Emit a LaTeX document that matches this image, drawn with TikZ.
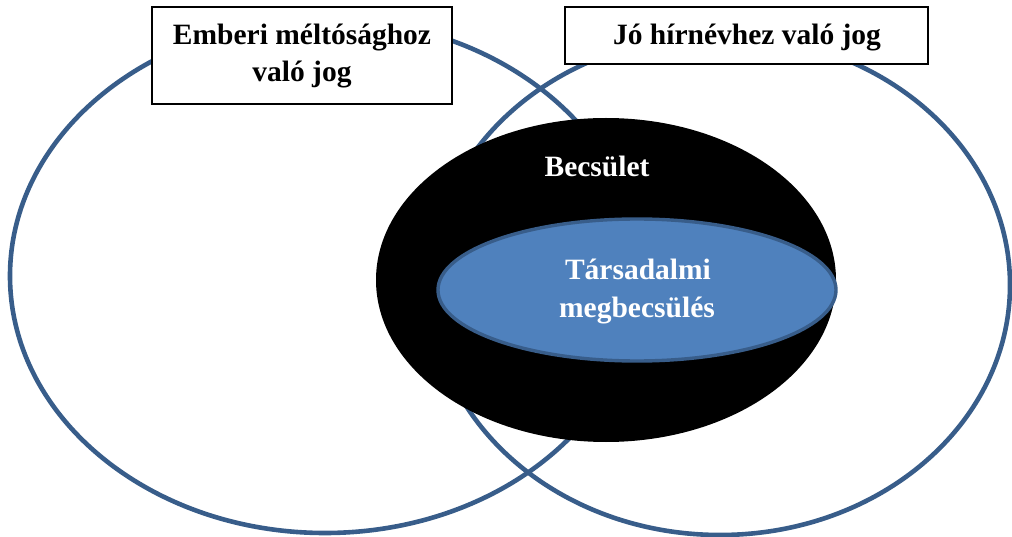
\documentclass[tikz,border=0pt]{standalone}
\usepackage{fontspec}
\setmainfont{Liberation Serif}
\usetikzlibrary{shapes.geometric}
\definecolor{ringblue}{HTML}{385D8A}
\definecolor{fillblue}{HTML}{4F81BD}
\tikzset{
  ring/.style={ellipse, draw=ringblue, line width=4.6pt, inner sep=0pt, outer sep=0pt},
  labelbox/.style={draw=black, fill=white, line width=1.3pt, inner sep=0pt, outer sep=0pt},
  bigtext/.style={font=\bfseries\fontsize{29.5}{37}\selectfont, inner sep=0pt, align=center},
}
\begin{document}
\begin{tikzpicture}[x=1pt,y=-1pt]
\useasboundingbox (0,0) rectangle (1012,537);
% big rings
\node[ring, minimum width=630pt, minimum height=514pt] (left) at (325,276) {};
\node[ring, minimum width=580pt, minimum height=500pt] (right) at (720,285) {};
% black ellipse
\node[ellipse, fill=black, inner sep=0pt, minimum width=460pt, minimum height=324pt] (honor) at (606,280) {};
% blue ellipse
\node[ellipse, fill=fillblue, draw=ringblue, line width=3.4pt, inner sep=0pt, minimum width=398pt, minimum height=142pt] (social) at (637,290) {};
% label boxes
\node[labelbox, minimum width=300pt, minimum height=97pt] (lbox) at (302,55.5) {};
\node[labelbox, minimum width=363pt, minimum height=57pt] (rbox) at (746.5,35.5) {};
% texts
\node[bigtext] (ltext) at (302,56) {Emberi méltósághoz\\való jog};
\node[bigtext, anchor=base] (rtext) at (747,45) {Jó hírnévhez való jog};
\node[bigtext, anchor=base, text=white] (htext) at (597,177) {Becsület};
\node[bigtext, anchor=base, text=white] (stext1) at (638,280) {Társadalmi};
\node[bigtext, anchor=base, text=white] (stext2) at (637,318) {megbecsülés};
\end{tikzpicture}
\end{document}
